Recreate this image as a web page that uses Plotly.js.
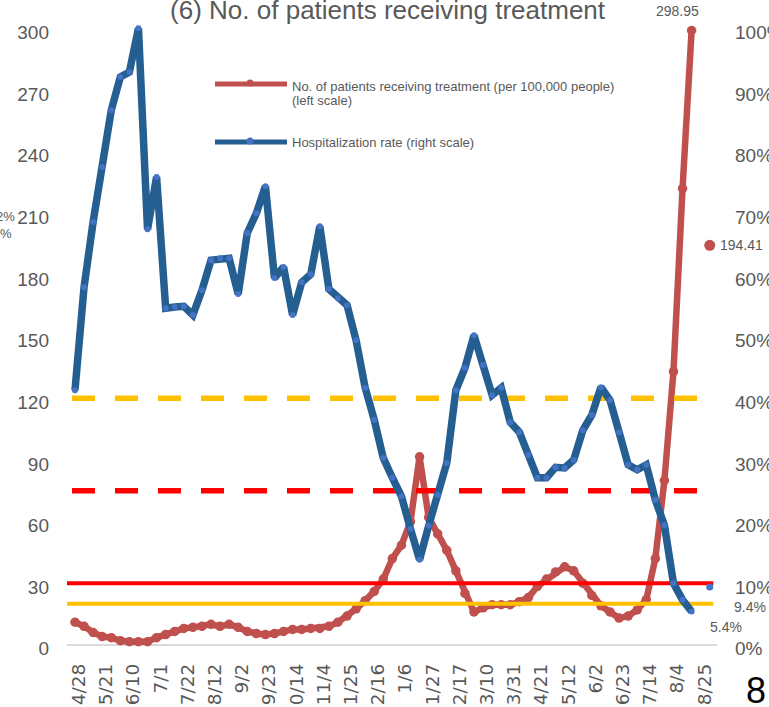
<!DOCTYPE html>
<html>
<head>
<meta charset="utf-8">
<script src="https://cdn.plot.ly/plotly-3.0.1.min.js"></script>
<style>
html,body{margin:0;padding:0;background:#fff;}
#chart{width:769px;height:707px;}
</style>
</head>
<body>
<div id="chart"></div>
<script>
// ---------------- DATA ----------------
const tickLabels = ["4/28","5/21","6/10","7/1","7/22","8/12","9/2","9/23","10/14","11/4","11/25","12/16",
  "1/6","1/27","2/17","3/10","3/31","4/21","5/12","6/2","6/23","7/14","8/4","8/25"];

// No. of patients receiving treatment (per 100,000 people), weekly, left scale
const patients = [11, 9, 6, 4, 3.5, 2, 1.5, 1.5, 1.5, 3.5,
  5, 6.5, 8, 8.5, 9, 10, 9, 10, 8.5, 6.5,
  5.5, 5, 5.5, 6.5, 7.5, 7.5, 8, 8, 9, 11,
  14, 17.5, 21.5, 26, 32, 42, 48.5, 60, 91.5, 62,
  54, 46, 36, 25, 16, 18, 19.5, 19.5, 19.5, 21,
  23, 28.5, 32, 35.5, 38, 36, 30, 24, 19, 16,
  13, 14, 17, 22, 42, 80, 133, 222, 298.95];

// Hospitalization rate (%), weekly, right scale
const hospRate = [41.3, 58.0, 68.6, 77.5, 86.7, 92.1, 92.9, 100, 67.4, 75.9,
  54.6, 54.8, 54.9, 53.5, 57.5, 62.4, 62.7, 62.7, 56.9, 66.8,
  70.0, 74.4, 59.5, 61.3, 53.5, 58.8, 60.1, 67.9, 57.7, 56.2,
  55.1, 49.4, 41.7, 36.5, 30.3, 27.1, 24.1, 18.8, 13.8, 19.3,
  24.3, 29.5, 41.3, 44.9, 50.2, 45.4, 40.5, 41.7, 36.1, 34.5,
  30.8, 27.1, 27.1, 28.8, 28.7, 30.0, 34.8, 37.3, 41.8, 39.7,
  34.5, 29.2, 28.4, 29.2, 23.5, 19.4, 10.0, 7.3, 5.4];

// Separate latest-value points
const patientsLatest = [194.41];
const hospRateLatest = [9.4];

// Stage thresholds
const patientThresholds = [30, 20];   // stage IV, stage III (left scale)
const rateThresholds = [25, 40];      // stage IV, stage III (right scale, %)

const leftTicks = [0, 30, 60, 90, 120, 150, 180, 210, 240, 270, 300];
const rightTicks = [0, 10, 20, 30, 40, 50, 60, 70, 80, 90, 100];

// ---------------- BUILD ----------------
const nPts = patients.length;
const idx = patients.map((_, i) => i);
const latestIdx = nPts + 1;
const tickVals = tickLabels.map((_, i) => i * 3);
const xMin = -0.88, xMax = 70.8;
const lineStart = -0.33, lineEnd = 70.4;

const RED = '#C0504D', BLUE = '#255E91', BLUE_M = '#4472C4';
const STAGE4 = '#FF0000', STAGE3 = '#FFC000';
const GRAY = '#595959';

const traces = [];
traces.push({
  x: idx, y: patients, yaxis: 'y', type: 'scatter', mode: 'lines+markers',
  line: {color: RED, width: 6.5}, marker: {color: RED, size: 9.5}, hoverinfo: 'skip'
});
traces.push({
  x: [latestIdx], y: patientsLatest, yaxis: 'y', type: 'scatter', mode: 'markers',
  marker: {color: RED, size: 11}, hoverinfo: 'skip'
});
const thrColors = [STAGE4, STAGE3];
patientThresholds.forEach((v, k) => traces.push({
  x: [xMin, lineEnd], y: [v, v], yaxis: 'y', type: 'scatter', mode: 'lines',
  line: {color: thrColors[k], width: 4}, hoverinfo: 'skip'
}));
rateThresholds.forEach((v, k) => traces.push({
  x: [lineStart, lineEnd], y: [v, v], yaxis: 'y2', type: 'scatter', mode: 'lines',
  line: {color: thrColors[k], width: 5.5, dash: '23px,20px'}, hoverinfo: 'skip'
}));
traces.push({
  x: idx, y: hospRate, yaxis: 'y2', type: 'scatter', mode: 'lines+markers',
  line: {color: BLUE, width: 7.5}, marker: {color: BLUE_M, size: 6}, hoverinfo: 'skip'
});
traces.push({
  x: [latestIdx], y: hospRateLatest, yaxis: 'y2', type: 'scatter', mode: 'markers',
  marker: {color: BLUE_M, size: 7}, hoverinfo: 'skip'
});

const W = 769, H = 707, ml = 67, mr = 52, mt = 16, mb = 56;
const pw = W - ml - mr, ph = H - mt - mb;
const px = v => (v - ml) / pw;
const py = v => (H - mb - v) / ph;

const legendFont = {family: 'Liberation Sans, Arial, sans-serif', size: 13, color: GRAY};
const labelFont = {family: 'Liberation Sans, Arial, sans-serif', size: 14, color: GRAY};
const fragFont = {family: 'Liberation Sans, Arial, sans-serif', size: 13, color: GRAY};

const layout = {
  width: W, height: H,
  margin: {l: ml, r: mr, t: mt, b: mb, pad: 0},
  paper_bgcolor: '#ffffff', plot_bgcolor: '#ffffff',
  showlegend: false,
  title: {
    text: '(6) No. of patients receiving treatment',
    x: 0.504, xref: 'container', xanchor: 'center',
    y: 1 - 10 / H, yref: 'container', yanchor: 'middle',
    font: {family: 'Liberation Sans, Arial, sans-serif', size: 26, color: GRAY}
  },
  xaxis: {
    range: [xMin, xMax], tickmode: 'array', tickvals: tickVals, ticktext: tickLabels,
    tickangle: -90, showgrid: false, zeroline: false, showline: false, ticks: '',
    tickfont: {family: 'DejaVu Sans, sans-serif', size: 18.5, color: GRAY},
    ticklabelshift: 4, ticklabelstandoff: 8, fixedrange: true
  },
  yaxis: {
    range: [-3, 306], tickmode: 'array', tickvals: leftTicks,
    showgrid: false, zeroline: true, zerolinecolor: '#D9D9D9', zerolinewidth: 2.5,
    showline: false, ticks: '',
    tickfont: {family: 'Liberation Sans, Arial, sans-serif', size: 19, color: GRAY},
    ticklabelstandoff: 17, ticklabelshift: 4, fixedrange: true
  },
  yaxis2: {
    range: [-1, 102], overlaying: 'y', side: 'right', tickmode: 'array', tickvals: rightTicks,
    ticktext: rightTicks.map(v => v + '%'),
    showgrid: false, zeroline: false, showline: false, ticks: '',
    tickfont: {family: 'Liberation Sans, Arial, sans-serif', size: 19, color: GRAY},
    ticklabelstandoff: 17, ticklabelshift: 4, fixedrange: true
  },
  shapes: [
    {type: 'line', xref: 'paper', yref: 'paper', x0: px(215), x1: px(287), y0: py(84), y1: py(84),
     line: {color: RED, width: 5}},
    {type: 'circle', xref: 'paper', yref: 'paper', xsizemode: 'pixel', ysizemode: 'pixel',
     xanchor: px(250), yanchor: py(83), x0: -3.5, x1: 3.5, y0: -3.5, y1: 3.5,
     fillcolor: RED, line: {width: 0}},
    {type: 'line', xref: 'paper', yref: 'paper', x0: px(215), x1: px(287), y0: py(142), y1: py(142),
     line: {color: BLUE, width: 5}},
    {type: 'circle', xref: 'paper', yref: 'paper', xsizemode: 'pixel', ysizemode: 'pixel',
     xanchor: px(250), yanchor: py(141), x0: -3.5, x1: 3.5, y0: -3.5, y1: 3.5,
     fillcolor: BLUE_M, line: {width: 0}}
  ],
  annotations: [
    {xref: 'paper', yref: 'paper', x: px(290), y: py(86), xanchor: 'left', yanchor: 'middle',
     text: 'No. of patients receiving treatment (per 100,000 people)', showarrow: false, font: legendFont},
    {xref: 'paper', yref: 'paper', x: px(290), y: py(101), xanchor: 'left', yanchor: 'middle',
     text: '(left scale)', showarrow: false, font: legendFont},
    {xref: 'paper', yref: 'paper', x: px(290), y: py(142), xanchor: 'left', yanchor: 'middle',
     text: 'Hospitalization rate (right scale)', showarrow: false, font: legendFont},
    {xref: 'x', yref: 'y', x: nPts - 1, y: patients[nPts - 1], xshift: -14, yshift: 19,
     text: patients[nPts - 1].toFixed(2), showarrow: false, font: labelFont},
    {xref: 'x', yref: 'y', x: latestIdx, y: patientsLatest[0], xanchor: 'left', xshift: 8,
     text: patientsLatest[0].toFixed(2), showarrow: false, font: labelFont},
    {xref: 'x', yref: 'y2', x: latestIdx, y: hospRateLatest[0], xanchor: 'left', xshift: 22, yshift: -20,
     text: hospRateLatest[0].toFixed(1) + '%', showarrow: false, font: labelFont},
    {xref: 'x', yref: 'y2', x: nPts - 1, y: hospRate[nPts - 1], xshift: 34, yshift: -15,
     text: hospRate[nPts - 1].toFixed(1) + '%', showarrow: false, font: labelFont},
    {xref: 'paper', yref: 'paper', x: px(16), y: py(216), xanchor: 'right', yanchor: 'middle',
     text: '2%', showarrow: false, font: fragFont, borderpad: 0},
    {xref: 'paper', yref: 'paper', x: px(13), y: py(233), xanchor: 'right', yanchor: 'middle',
     text: '%', showarrow: false, font: fragFont, borderpad: 0},
    {xref: 'paper', yref: 'paper', x: px(756), y: py(690), xanchor: 'center', yanchor: 'middle',
     text: '8', showarrow: false, font: {family: 'Liberation Sans, Arial, sans-serif', size: 36, color: '#000000'}}
  ]
};

Plotly.newPlot('chart', traces, layout, {displayModeBar: false, staticPlot: true});
</script>
</body>
</html>
